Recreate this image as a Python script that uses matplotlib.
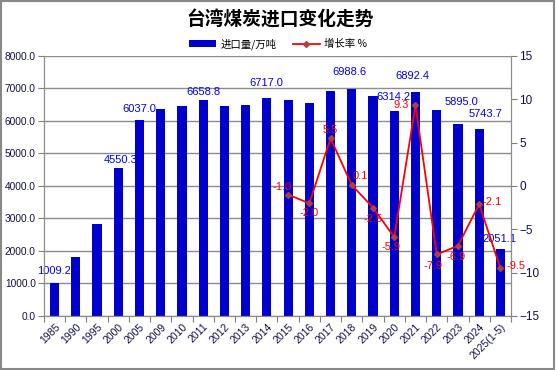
import matplotlib
matplotlib.use("Agg")
import matplotlib.pyplot as plt
from matplotlib.patches import Rectangle

plt.rcParams['font.family'] = ['Liberation Sans', 'Noto Sans CJK SC']
CJK = ['Noto Sans CJK SC', 'DejaVu Sans']

years = ['1985', '1990', '1995', '2000', '2005', '2009', '2010', '2011', '2012', '2013', '2014',
         '2015', '2016', '2017', '2018', '2019', '2020', '2021', '2022', '2023', '2024', '2025(1-5)']
imports = [1009.2, 1820, 2840, 4550.3, 6037.0, 6358, 6450, 6658.8, 6450, 6481, 6717.0,
           6640, 6550, 6914, 6988.6, 6760, 6314.2, 6892.4, 6327, 5895.0, 5743.7, 2051.1]
growth_years = years[11:]
growth = [-1.0, -2.0, 5.5, 0.1, -2.5, -5.9, 9.3, -7.9, -6.9, -2.1, -9.5]

# bars that carry a value label, with label offsets in pixels
bar_labels = {'1985': (-1, 12), '2000': (2, 8), '2005': (0, 11), '2011': (0, 8),
              '2014': (-1, 15), '2018': (-2, 17), '2020': (-1, 14), '2021': (-3, 16),
              '2023': (4, 22), '2024': (6, 15), '2025(1-5)': (-1, 10)}
line_offsets = [(-6, 8), (0, -10), (0, 8), (9, 9), (0, -11), (-3, -10),
                (-14, 0), (-4, -12), (-2, -11), (13, 2), (16, 2)]

fig = plt.figure(figsize=(5.56, 3.70), dpi=100)
ax = fig.add_axes([0.0791, 0.146, 0.840, 0.7027])
fig.patches.append(Rectangle((0.002, 0.003), 0.995, 0.994, transform=fig.transFigure,
                             fill=False, edgecolor='#888888', linewidth=1.5))

x = list(range(len(years)))
ax.bar(x, imports, width=0.43, color='#0000CC', zorder=2, label='进口量/万吨')
ax.set_xlim(-0.5, len(years) - 0.5)
ax.set_ylim(0, 8000)
ax.set_yticks(range(0, 8001, 1000))
ax.set_yticklabels(['%.1f' % v for v in range(0, 8001, 1000)], fontsize=7.3, color='#101040')
ax.yaxis.grid(True, color='#8c8c8c', linewidth=1.0, zorder=0)
ax.set_axisbelow(True)
ax.set_xticks([i - 0.5 for i in range(len(years) + 1)])
ax.set_xticklabels([''] * (len(years) + 1))
ax.set_xticks(x, minor=True)
ax.set_xticklabels(years, minor=True, rotation=45, ha='right', rotation_mode='anchor',
                   fontsize=7.5, color='#101040')
ax.tick_params(axis='x', which='minor', length=0, pad=4)
ax.tick_params(axis='x', which='major', length=4, color='#7f7f7f')
ax.tick_params(axis='y', length=4, color='#7f7f7f', pad=2)
for s in ['left', 'bottom', 'right', 'top']:
    ax.spines[s].set_color('#8c8c8c')
ax.spines['top'].set_visible(False)

for i, (yr, v) in enumerate(zip(years, imports)):
    if yr in bar_labels:
        ax.annotate('%.1f' % v, (i, v), xytext=bar_labels[yr], textcoords='offset pixels',
                    ha='center', va='center', fontsize=8, color='#0000EE')

ax2 = ax.twinx()
gx = [years.index(y) for y in growth_years]
ax2.plot(gx, growth, color='#FF0000', linewidth=1.3, marker='D', markersize=3,
         markerfacecolor='#B04040', markeredgecolor='#B04040', label='增长率 %', zorder=3)
ax2.set_ylim(-15, 15)
ax2.set_yticks(range(-15, 16, 5))
ax2.tick_params(axis='y', length=4, color='#7f7f7f', labelsize=8.5, labelcolor='#101040', pad=2)
for s in ['left', 'bottom', 'right', 'top']:
    ax2.spines[s].set_color('#8c8c8c')
ax2.spines['top'].set_visible(False)
for xi, g, off in zip(gx, growth, line_offsets):
    ax2.annotate('%.1f' % g, (xi, g), xytext=off, textcoords='offset pixels',
                 ha='center', va='center', fontsize=8, color='#FF0000')

fig.text(0.503, 0.945, '台湾煤炭进口变化走势', ha='center', va='center', fontsize=13.5,
         fontweight='bold', family=CJK)
h1, l1 = ax.get_legend_handles_labels()
h2, l2 = ax2.get_legend_handles_labels()
fig.legend(h1 + h2, l1 + l2, loc='center', bbox_to_anchor=(0.5, 0.881), ncol=2, frameon=False,
           prop={'family': CJK, 'size': 7.5}, handlelength=2.6, handleheight=0.55,
           handletextpad=0.4, columnspacing=1.6, borderpad=0)

fig.savefig('out.png', dpi=100)
